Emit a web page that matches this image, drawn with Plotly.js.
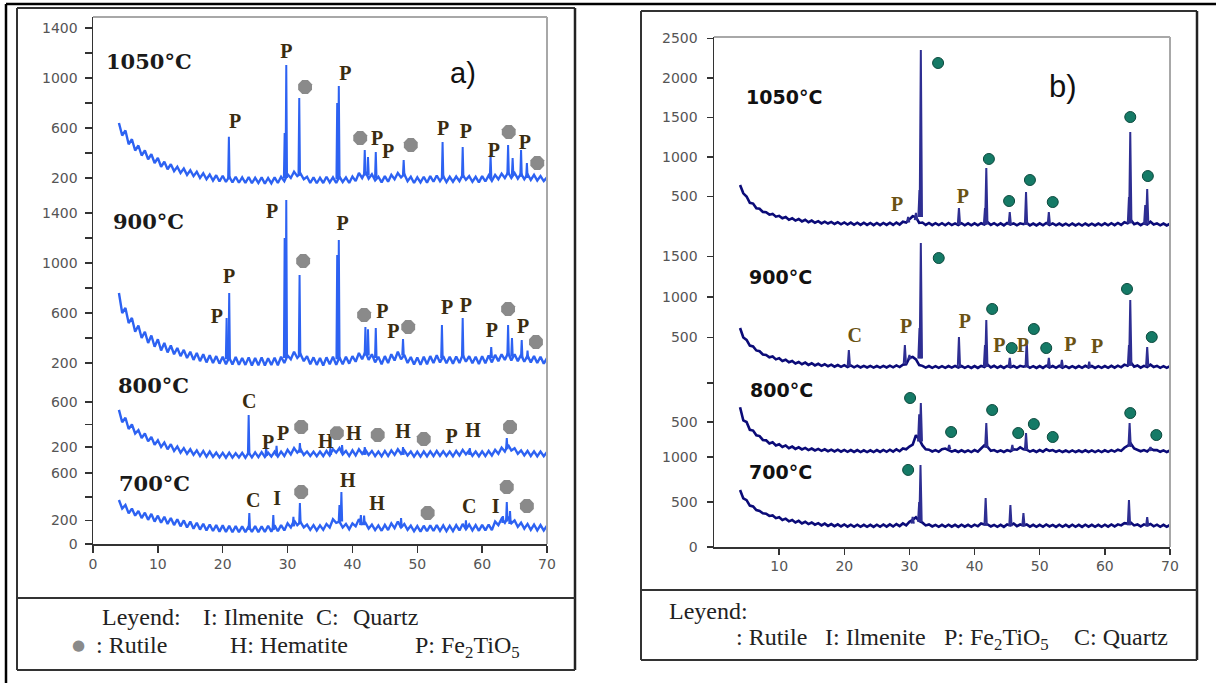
<!DOCTYPE html>
<html>
<head>
<meta charset="utf-8">
<script src="https://cdn.plot.ly/plotly-3.0.1.min.js"></script>
<style>html,body{margin:0;padding:0;background:#fff;}#chart{width:1216px;height:683px;}</style>
</head>
<body>
<div id="chart"></div>
<script>
// ---------- DATA ----------
// common 2-theta grid for background readings (degrees)
const bgX = [
4,4.5,5,5.5,6,6.5,7,7.5,8,8.5,
9,9.5,10,10.5,11,11.5,12,12.5,13,13.5,
14,14.5,15,15.5,16,16.5,17,17.5,18,18.5,
19,19.5,20,20.5,21,21.5,22,22.5,23,23.5,
24,24.5,25,25.5,26,26.5,27,27.5,28,28.5,
29,29.5,30,30.5,31,31.5,32,32.5,33,33.5,
34,34.5,35,35.5,36,36.5,37,37.5,38,38.5,
39,39.5,40,40.5,41,41.5,42,42.5,43,43.5,
44,44.5,45,45.5,46,46.5,47,47.5,48,48.5,
49,49.5,50,50.5,51,51.5,52,52.5,53,53.5,
54,54.5,55,55.5,56,56.5,57,57.5,58,58.5,
59,59.5,60,60.5,61,61.5,62,62.5,63,63.5,
64,64.5,65,65.5,66,66.5,67,67.5,68,68.5,
69,69.5,70];

// ----- panel a) background intensities -----
const a1050Y = [
640,540,580,470,510,420,460,380,420,350,
390,320,360,290,330,270,310,255,290,240,
275,225,262,215,250,200,238,190,228,180,
222,172,218,168,212,165,210,162,205,160,
208,158,202,160,205,155,200,158,205,160,
210,175,230,200,250,215,235,190,210,160,
205,158,202,160,210,165,205,160,210,168,
205,160,212,175,240,200,250,195,230,180,
210,165,215,170,225,190,240,205,230,175,
210,160,205,165,210,162,215,170,220,175,
215,168,210,170,212,175,225,185,215,170,
210,165,215,172,220,178,225,190,235,200,
245,200,240,195,235,190,230,185,225,180,
215,175,205];
const a900Y = [
760,600,640,520,560,450,500,400,450,360,
420,330,390,300,360,285,340,270,320,255,
305,240,290,225,280,215,270,205,262,200,
255,195,250,190,245,188,248,186,240,185,
245,180,240,182,245,180,238,185,242,182,
250,200,260,230,290,240,270,215,255,190,
245,185,240,180,245,190,250,185,245,190,
250,195,255,210,280,230,290,225,270,205,
250,190,255,200,270,220,290,230,265,200,
248,188,245,185,250,190,255,200,262,205,
255,198,250,195,252,200,265,210,255,198,
250,192,255,198,260,205,265,215,270,225,
280,220,270,215,265,210,260,205,255,200,
250,195,240];
const a800Y = [
530,420,460,360,400,320,350,280,320,250,
290,220,260,200,240,180,225,165,205,150,
190,140,180,130,170,120,165,115,160,112,
150,108,148,105,150,105,145,108,148,105,
150,108,152,110,155,112,150,115,158,115,
160,120,175,135,190,150,180,130,160,120,
158,118,160,120,165,125,180,150,190,135,
165,120,170,125,180,140,175,130,165,120,
160,118,165,120,170,130,180,140,170,125,
160,115,158,115,160,118,162,120,165,122,
162,120,160,118,165,125,175,135,168,122,
160,118,162,120,165,125,175,140,195,160,
220,170,190,140,170,125,165,120,162,118,
160,118,155];
const a700Y = [
373,300,330,260,300,240,280,220,265,205,
255,190,240,180,230,170,220,160,210,150,
200,140,190,130,180,122,172,115,165,110,
160,105,158,102,155,100,152,100,150,100,
150,102,152,100,150,102,155,105,158,108,
160,115,175,140,200,160,185,140,165,120,
160,115,158,120,170,140,210,180,190,140,
170,125,175,150,210,170,180,130,165,118,
158,112,162,118,175,135,190,140,170,120,
155,108,152,105,155,108,158,110,160,112,
158,110,155,110,160,115,170,125,165,115,
160,112,162,115,165,118,190,160,215,180,
230,175,200,145,180,130,170,120,165,115,
160,115,155];

// ----- panel a) peaks: position, top, foot -----
const a1050PkX = [20.95,29.55,29.8,31.8,37.65,37.9,41.9,42.4,43.6,47.9,53.9,57.0,61.3,64.0,64.7,66.0,66.9];
const a1050PkTop = [530,560,1104,840,800,936,424,368,408,344,488,448,384,464,360,424,320];
const a1050PkBase = [190,200,200,220,190,190,220,220,200,220,200,200,200,230,220,210,200];
const a900PkX = [20.6,21.0,29.55,29.8,31.85,37.65,37.9,42.0,42.4,43.6,47.8,53.8,57.0,61.4,64.0,64.6,66.1,67.0];
const a900PkTop = [560,760,1200,1504,904,1064,1184,488,470,480,392,504,560,328,504,400,384,300];
const a900PkBase = [230,230,240,240,260,230,230,260,260,240,260,240,240,240,260,250,240,230];
const a800PkX = [24.0,26.7,28.3,31.9,36.6,38.4,41.9,47.8,58.1,63.8];
const a800PkTop = [484,200,210,236,190,218,200,200,190,280];
const a800PkBase = [130,120,125,150,130,150,130,130,130,180];
const a700PkX = [24.1,27.8,30.9,31.9,38.0,38.3,41.3,41.8,47.5,57.5,63.2,63.8,64.3];
const a700PkTop = [263,246,230,347,330,441,246,240,220,200,237,356,280];
const a700PkBase = [120,120,150,170,190,190,160,160,140,130,180,190,170];

// ----- panel b) background intensities -----
const b1050Y = [
645,540,500,420,410,350,345,305,300,270,
280,245,255,225,240,205,225,195,215,185,
205,175,195,168,188,160,182,158,178,152,
175,148,172,145,170,142,168,140,168,140,
165,138,165,138,165,140,168,140,170,145,
180,170,210,250,240,165,170,140,165,138,
162,138,162,136,165,138,160,138,162,136,
160,135,160,136,162,145,175,140,162,136,
160,135,165,145,160,136,160,150,165,135,
158,134,160,136,165,140,160,135,158,134,
156,132,158,134,156,132,158,134,156,134,
158,135,160,136,162,138,165,140,175,160,
200,150,165,138,162,145,180,145,160,135,
158,134,155];
const b900Y = [
617,500,470,400,390,340,330,290,285,255,
265,230,245,210,225,195,210,180,198,170,
190,162,182,155,175,150,170,145,165,140,
160,138,158,135,155,132,152,130,150,130,
150,128,148,128,150,130,152,132,155,135,
165,170,250,260,230,160,150,128,148,126,
146,125,146,125,148,128,150,130,148,125,
146,124,148,125,150,135,165,130,150,126,
148,125,150,132,148,126,150,140,152,126,
146,124,148,125,152,130,148,126,150,125,
146,124,146,124,148,126,150,130,148,124,
146,125,148,126,150,128,152,132,165,150,
190,140,155,128,150,135,165,135,150,126,
146,125,148];
const b800Y = [
690,520,500,400,390,330,320,270,265,225,
240,200,215,180,200,165,185,155,175,148,
168,140,160,135,155,130,150,126,146,122,
145,120,142,118,140,116,140,115,138,115,
138,115,140,116,142,118,145,120,150,125,
160,150,185,210,330,280,200,150,145,122,
140,118,150,160,140,120,138,116,138,116,
136,115,140,120,160,200,180,130,140,118,
136,116,140,125,150,145,175,150,145,120,
138,116,140,120,150,130,140,118,136,115,
135,114,136,115,135,115,138,116,136,115,
136,115,138,118,140,120,145,130,170,200,
220,160,145,125,140,122,160,140,140,118,
136,115,135];
const b700Y = [
633,540,520,460,450,410,400,375,370,345,
350,320,330,300,315,285,300,272,290,262,
280,255,272,248,265,240,260,235,255,232,
252,228,250,226,248,225,248,225,246,224,
246,224,248,225,250,226,252,228,255,232,
262,240,280,300,330,290,270,240,250,228,
246,224,246,225,248,226,246,224,248,226,
246,225,248,230,262,250,250,228,246,225,
246,224,250,240,260,232,250,240,250,226,
246,224,246,225,250,228,246,224,248,225,
246,224,248,225,246,224,248,226,246,224,
246,225,248,226,250,228,252,240,265,260,
270,240,250,228,252,240,255,230,248,225,
246,224,246];

// ----- panel b) peaks -----
const b1050PkX = [29.8,31.0,31.55,31.75,37.6,41.6,41.8,45.4,47.9,51.4,63.7,63.9,66.2,66.5];
const b1050PkTop = [240,291,582,2354,354,354,860,304,557,304,494,1316,392,595];
const b1050PkBase = [170,200,240,240,140,145,145,140,140,140,160,160,145,145];
const b900PkX = [20.7,29.3,30.0,31.55,31.75,37.6,41.6,41.8,45.4,48.0,51.4,53.4,57.6,63.7,63.9,66.5];
const b900PkTop = [346,407,284,617,1667,506,407,716,247,469,247,222,200,407,963,383];
const b900PkBase = [140,170,230,240,240,130,135,135,130,130,130,128,126,150,150,140];
const b800PkX = [31.5,31.75,36.1,41.8,45.8,47.9,63.8,67.0];
const b800PkTop = [600,744,205,487,205,359,487,180];
const b800PkBase = [250,250,150,170,130,140,180,130];
const b700PkX = [30.5,31.5,31.7,41.7,45.5,47.5,63.7,66.5];
const b700PkTop = [333,500,911,544,467,378,522,333];
const b700PkBase = [260,280,280,240,230,230,240,230];

// ----- phase labels (letters) and rutile marks -----
const a1050LetX = [21.9,29.8,38.9,43.8,45.5,54.0,57.5,61.8,66.6];
const a1050LetY = [640,1200,1024,504,400,584,560,408,472];
const a1050LetT = ['P','P','P','P','P','P','P','P','P'];
const a1050DotX = [32.7,41.2,49.0,64.1,68.5];
const a1050DotY = [928,520,464,568,320];
const a900LetX = [19.1,21.0,27.6,38.5,44.6,46.3,54.6,57.5,61.5,66.3];
const a900LetY = [560,880,1400,1304,600,440,632,648,448,480];
const a900LetT = ['P','P','P','P','P','P','P','P','P','P'];
const a900DotX = [32.4,41.8,48.6,64.0,68.3];
const a900DotY = [1016,584,488,632,368];
const a800LetX = [24.1,27.0,29.3,35.9,40.2,47.8,55.3,58.6];
const a800LetY = [591,227,307,236,307,324,280,333];
const a800LetT = ['C','P','P','H','H','H','P','H'];
const a800DotX = [32.1,37.6,43.9,51.0,64.3];
const a800DotY = [378,324,307,271,378];
const a700LetX = [24.7,28.4,39.3,43.8,58.0,62.1];
const a700LetY = [356,373,525,331,305,305];
const a700LetT = ['C','I','H','H','C','I'];
const a700DotX = [32.1,51.6,63.8,66.9];
const a700DotY = [441,263,483,322];

const b1050LetX = [28.1,38.2];
const b1050LetY = [380,481];
const b1050LetT = ['P','P'];
const b1050DotX = [34.4,42.2,45.3,48.5,52.0,63.9,66.6];
const b1050DotY = [2190,975,443,709,430,1506,759];
const b900LetX = [21.6,29.5,38.5,43.8,47.4,54.7,58.8];
const b900LetY = [506,617,679,383,383,395,370];
const b900LetT = ['C','P','P','P','P','P','P'];
const b900DotX = [34.5,42.7,45.7,49.1,51.0,63.4,67.2];
const b900DotY = [1481,852,370,605,370,1099,506];
const b800DotX = [30.1,36.4,42.7,46.7,49.1,52.0,63.9,67.9];
const b800DotY = [808,372,654,359,474,308,615,333];
const b700DotX = [29.8];
const b700DotY = [856];

const temps = ['1050°C','900°C','800°C','700°C'];
const xTicksA = [0,10,20,30,40,50,60,70];
const xTicksB = [10,20,30,40,50,60,70];

// ---------- BUILD ----------
const W = 1216, H = 683;
const px = v => v / W;
const py = v => 1 - v / H;
const dom = (bot, top) => [py(bot), py(top)];

const BLUE = '#2d62f2', NAVY = '#0b0b78', NAVYPK = '#2e2e92';
const traces = [];

function pattern(xa, ya, y, pX, pT, pB, hw, col, pkCol, w, pw) {
  traces.push({x: bgX, y: y, xaxis: xa, yaxis: ya, mode: 'lines', line: {color: col, width: w}, hoverinfo: 'skip'});
  const sx = [], sy = [];
  pX.forEach((v, i) => { sx.push(v - hw, v, v + hw, null); sy.push(pB[i], pT[i], pB[i], null); });
  traces.push({x: sx, y: sy, xaxis: xa, yaxis: ya, mode: 'lines', connectgaps: false, line: {color: pkCol, width: pw}, hoverinfo: 'skip'});
}
function letters(xa, ya, lx, ly, lt, col) {
  traces.push({x: lx, y: ly, text: lt, xaxis: xa, yaxis: ya, mode: 'text', cliponaxis: false,
    textposition: 'middle center', textfont: {family: 'Liberation Serif', size: 20, color: col, weight: 'bold'}, hoverinfo: 'skip'});
}
function dots(xa, ya, dx, dy, marker) {
  traces.push({x: dx, y: dy, xaxis: xa, yaxis: ya, mode: 'markers', cliponaxis: false, marker: marker, hoverinfo: 'skip'});
}

const aDot = {symbol: 'octagon', size: 15, color: '#8a8a8a', line: {width: 0}};
const bDot = {symbol: 'circle', size: 11, color: '#157a66', line: {color: '#0c4a3e', width: 1}};
const aLetCol = '#3a2c10', bLetCol = '#6a5214';

pattern('x', 'y4', a1050Y, a1050PkX, a1050PkTop, a1050PkBase, 0.12, BLUE, BLUE, 2.4, 2);
pattern('x', 'y3', a900Y, a900PkX, a900PkTop, a900PkBase, 0.12, BLUE, BLUE, 2.4, 2);
pattern('x', 'y2', a800Y, a800PkX, a800PkTop, a800PkBase, 0.12, BLUE, BLUE, 2.4, 2);
pattern('x', 'y', a700Y, a700PkX, a700PkTop, a700PkBase, 0.12, BLUE, BLUE, 2.4, 2);
letters('x', 'y4', a1050LetX, a1050LetY, a1050LetT, aLetCol);
letters('x', 'y3', a900LetX, a900LetY, a900LetT, aLetCol);
letters('x', 'y2', a800LetX, a800LetY, a800LetT, aLetCol);
letters('x', 'y', a700LetX, a700LetY, a700LetT, aLetCol);
dots('x', 'y4', a1050DotX, a1050DotY, aDot);
dots('x', 'y3', a900DotX, a900DotY, aDot);
dots('x', 'y2', a800DotX, a800DotY, aDot);
dots('x', 'y', a700DotX, a700DotY, aDot);

pattern('x2', 'y8', b1050Y, b1050PkX, b1050PkTop, b1050PkBase, 0.18, NAVY, NAVYPK, 2.6, 2);
pattern('x2', 'y7', b900Y, b900PkX, b900PkTop, b900PkBase, 0.18, NAVY, NAVYPK, 2.6, 2);
pattern('x2', 'y6', b800Y, b800PkX, b800PkTop, b800PkBase, 0.18, NAVY, NAVYPK, 2.6, 2);
pattern('x2', 'y5', b700Y, b700PkX, b700PkTop, b700PkBase, 0.18, NAVY, NAVYPK, 2.6, 2);
letters('x2', 'y8', b1050LetX, b1050LetY, b1050LetT, bLetCol);
letters('x2', 'y7', b900LetX, b900LetY, b900LetT, bLetCol);
dots('x2', 'y8', b1050DotX, b1050DotY, bDot);
dots('x2', 'y7', b900DotX, b900DotY, bDot);
dots('x2', 'y6', b800DotX, b800DotY, bDot);
dots('x2', 'y5', b700DotX, b700DotY, bDot);

const axBase = {showgrid: false, zeroline: false, showline: true, linecolor: '#333', linewidth: 1.5,
  ticks: 'outside', ticklen: 7, tickwidth: 1.5, tickcolor: '#333', fixedrange: true,
  tickfont: {family: 'DejaVu Sans', size: 14, color: '#555'}};
const minorA = tv => ({tickmode: 'array', tickvals: tv, ticks: 'outside', ticklen: 7, tickwidth: 1.5, tickcolor: '#333', showgrid: false});
const minorB = tv => ({tickmode: 'array', tickvals: tv, ticks: 'outside', ticklen: 6, tickwidth: 1.5, tickcolor: '#333', showgrid: false});
const yA = (d, r, tv, mv) => Object.assign({}, axBase, {domain: d, range: r, anchor: 'x', tickmode: 'array', tickvals: tv, ticktext: tv.map(String), ticklabelstandoff: 4, minor: minorA(mv)});
const yB = (d, r, tv, mv) => Object.assign({}, axBase, {domain: d, range: r, anchor: 'x2', tickmode: 'array', tickvals: tv, ticktext: tv.map(String), ticklen: 6, ticklabelstandoff: 6, minor: minorB(mv)});

function ln(x0, y0, x1, y1, c, w) {
  return {type: 'line', xref: 'paper', yref: 'paper', x0: px(x0), y0: py(y0), x1: px(x1), y1: py(y1), line: {color: c, width: w}};
}
function ann(text, x, y, font, extra) {
  return Object.assign({text: text, x: px(x), y: py(y), xref: 'paper', yref: 'paper', showarrow: false,
    xanchor: 'center', yanchor: 'middle', font: font}, extra || {});
}
const tA = {family: 'DejaVu Serif', size: 21, color: '#1a1a1a', weight: 'bold'};
const tB = {family: 'DejaVu Sans', size: 19, color: '#111', weight: 'bold'};
const leg = {family: 'Liberation Serif', size: 24, color: '#222'};

const layout = {
  width: W, height: H, margin: {l: 0, r: 0, t: 0, b: 0},
  paper_bgcolor: '#fff', plot_bgcolor: 'rgba(0,0,0,0)', showlegend: false, hovermode: false,
  xaxis: Object.assign({}, axBase, {domain: [px(93), px(547)], range: [0, 70], anchor: 'y', tickmode: 'array', tickvals: xTicksA, ticktext: xTicksA.map(String)}),
  yaxis: yA(dom(544, 462), [0, 695], [0, 200, 600], [400]),
  yaxis2: yA(dom(462, 385), [67, 751], [200, 600], [400]),
  yaxis3: yA(dom(385, 195), [24, 1544], [200, 600, 1000, 1400], [400, 800, 1200]),
  yaxis4: yA(dom(195, 17), [64, 1488], [200, 600, 1000, 1400], [400, 800, 1200]),
  xaxis2: Object.assign({}, axBase, {domain: [px(714), px(1170)], range: [0, 70], anchor: 'y5', ticklen: 6, tickmode: 'array', tickvals: xTicksB, ticktext: xTicksB.map(String)}),
  yaxis5: yB(dom(547, 455), [0, 1022], [0, 500, 1000], []),
  yaxis6: yB(dom(455, 375), [77, 1103], [500], [1000]),
  yaxis7: yB(dom(375, 230), [37, 1827], [500, 1000, 1500], []),
  yaxis8: yB(dom(230, 37), [76, 2519], [500, 1000, 1500, 2000, 2500], []),
  shapes: [
    ln(6, 4, 6, 683, '#000', 2.5),
    ln(6, 4, 1216, 4, '#000', 2.5),
    ln(17, 8, 575, 8, '#333', 2), ln(17, 8, 17, 670, '#333', 2), ln(575, 8, 575, 670, '#222', 2.5), ln(17, 670, 575, 670, '#333', 2),
    ln(17, 598, 575, 598, '#333', 2),
    ln(93, 17, 547, 17, '#a8a8a8', 2), ln(547, 17, 547, 544, '#a8a8a8', 2),
    ln(641, 11, 1197, 11, '#333', 2), ln(641, 11, 641, 660, '#333', 2), ln(1197, 11, 1197, 660, '#222', 2.5), ln(641, 660, 1197, 660, '#333', 2),
    ln(641, 590, 1197, 590, '#333', 2),
    ln(714, 37, 1170, 37, '#a8a8a8', 2), ln(1170, 37, 1170, 547, '#a8a8a8', 2)
  ],
  annotations: [
    ann(temps[0], 149, 62, tA), ann(temps[1], 148, 222, tA), ann(temps[2], 153, 385, tA), ann(temps[3], 154, 483, tA),
    ann(temps[0], 784, 97, tB), ann(temps[1], 780, 277, tB), ann(temps[2], 781, 390, tB), ann(temps[3], 780, 472, tB),
    ann('a)', 463, 73, {family: 'Liberation Sans', size: 29, color: '#111'}),
    ann('b)', 1063, 87, {family: 'Liberation Sans', size: 31, color: '#111'}),
    ann('Leyend:', 141, 617, leg), ann('I: Ilmenite', 253, 617, leg), ann('C:', 327, 617, leg), ann('Quartz', 386, 617, leg),
    ann('●', 78, 645, {family: 'DejaVu Sans', size: 15, color: '#8a8a8a'}),
    ann(': Rutile', 131, 645, leg), ann('H: Hematite', 289, 645, leg), ann('P: Fe<sub>2</sub>TiO<sub>5</sub>', 467, 647, leg),
    ann('Leyend:', 708, 611, leg),
    ann(': Rutile', 772, 637, leg), ann('I: Ilmenite', 875, 637, leg), ann('P: Fe<sub>2</sub>TiO<sub>5</sub>', 996, 639, leg), ann('C: Quartz', 1121, 637, leg)
  ]
};

Plotly.newPlot('chart', traces, layout, {staticPlot: true, displayModeBar: false});
</script>
</body>
</html>
